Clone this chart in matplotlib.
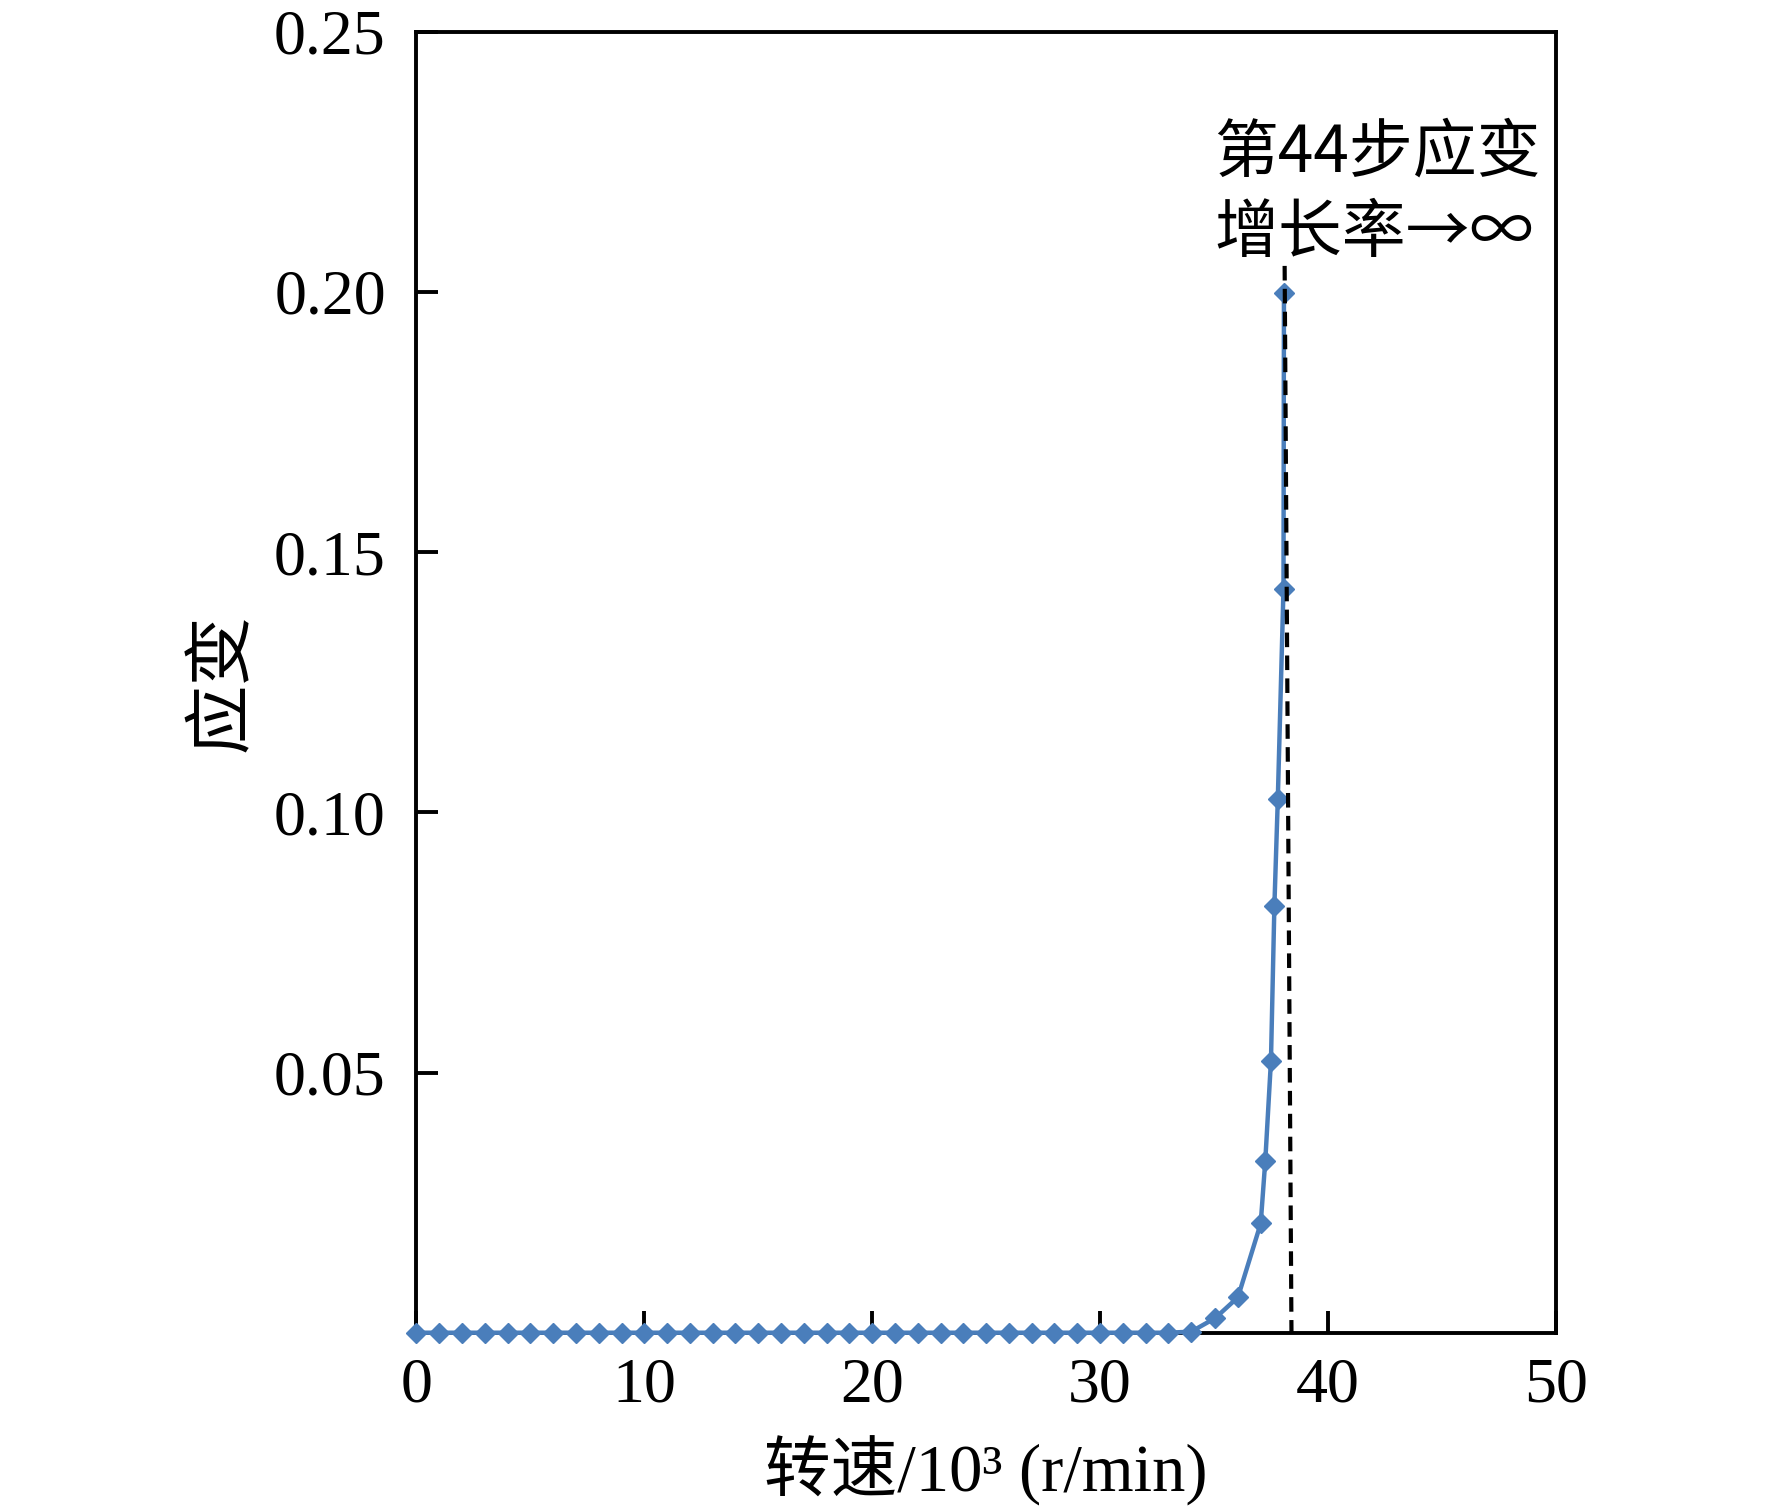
import matplotlib
matplotlib.use("Agg")
import matplotlib.pyplot as plt

plt.rcParams['font.family'] = ['Liberation Serif', 'Noto Sans CJK SC', 'DejaVu Sans']

# speed (10^3 r/min) and strain
speed = [0, 1, 2, 3, 4, 5, 6, 7, 8, 9, 10, 11, 12, 13, 14, 15, 16, 17,
         18, 19, 20, 21, 22, 23, 24, 25, 26, 27, 28, 29, 30, 31, 32, 33, 34,
         35.05, 36.05, 37.05, 37.25, 37.5, 37.65, 37.8, 38.05, 38.07]
strain = [0, 0, 0, 0, 0, 0, 0, 0, 0, 0, 0, 0, 0, 0, 0, 0, 0, 0,
          0, 0, 0, 0, 0, 0, 0, 0, 0, 0, 0, 0, 0, 0, 0, 0, 0.0002,
          0.0028, 0.0068, 0.021, 0.033, 0.0523, 0.082, 0.1025, 0.143, 0.1998]

# critical speed marker (dashed, slightly slanted in the original)
crit_x = [38.1, 38.4]
crit_y = [0.205, 0.0]

x_ticks = [0, 10, 20, 30, 40, 50]
y_ticks = [0.05, 0.10, 0.15, 0.20, 0.25]

cjk = ['Noto Sans CJK SC', 'DejaVu Sans']

fig = plt.figure(figsize=(17.72, 15.11), dpi=100)
ax = fig.add_axes([0.235, 0.118, 0.643, 0.861])

ax.plot(speed, strain, color='#4a7ebb', lw=3.2, marker='D', ms=10,
        mec='#4a7ebb', mfc='#4a7ebb', clip_on=False, zorder=3)
ax.plot(crit_x, crit_y, color='black', lw=3, ls=(0, (3.5, 2)), zorder=4)

ax.text(35.0, 0.2267, '第44步应变', fontsize=46, va='center', ha='left',
        family=cjk)
ax.text(35.0, 0.2112, '增长率→∞', fontsize=46, va='center', ha='left',
        family=cjk)

ax.set_xlim(0, 50)
ax.set_ylim(0, 0.25)
ax.set_xticks(x_ticks)
ax.set_yticks(y_ticks)
ax.set_yticklabels(['%.2f' % v for v in y_ticks])
ax.tick_params(direction='in', length=16, width=2.8, labelsize=46)
ax.tick_params(axis='y', pad=22)
ax.tick_params(axis='x', pad=18)

for s in ax.spines.values():
    s.set_linewidth(2.8)

ax.set_xlabel('转速/10³ (r/min)', fontsize=48, labelpad=14)
ax.set_ylabel('应变', fontsize=50, labelpad=12, family=cjk)

fig.savefig('out.png', dpi=100)
